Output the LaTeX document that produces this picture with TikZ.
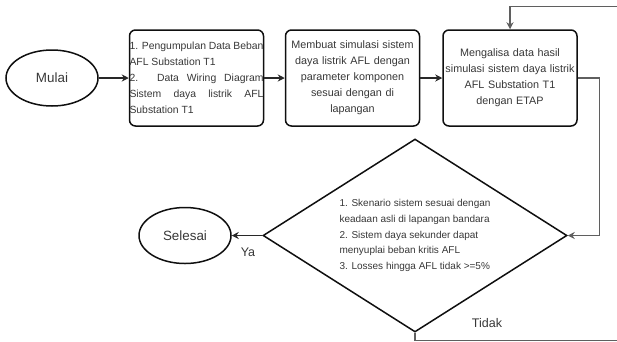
\documentclass[tikz,border=0pt]{standalone}
\usepackage{fontspec}
\setmainfont{Liberation Sans}
\usepackage{xcolor}
\usetikzlibrary{arrows.meta,positioning,shapes.geometric,calc}
\definecolor{fcedge}{RGB}{15,15,15}
\definecolor{fcline}{RGB}{40,40,40}
\definecolor{fcloop}{RGB}{95,95,95}
\definecolor{fcink}{RGB}{55,55,55}
\tikzset{
  fcbox/.style={
    draw=fcedge, line width=1.5pt, rounded corners=6pt,
    minimum width=134pt, minimum height=96pt, inner sep=0pt,
    text=fcink, text width=134pt, font=\fontsize{10.8}{16}\selectfont
  },
  term/.style={
    ellipse, draw=fcedge, line width=1.5pt, inner sep=0pt,
    minimum width=92pt, minimum height=56pt,
    text=fcink, font=\fontsize{13.4}{16}\selectfont
  },
  cond/.style={
    diamond, draw=fcedge, line width=1.5pt, inner sep=0pt, aspect=1.575,
    minimum width=304pt, minimum height=193pt, align=left,
    text=fcink, font=\fontsize{10}{15.7}\selectfont
  },
  arr/.style={-{Stealth[length=7pt,width=7pt]}, draw=fcline, line width=1.1pt},
  looparr/.style={arr, draw=fcloop},
  lbl/.style={text=fcink, font=\fontsize{12.5}{15}\selectfont, inner sep=0pt}
}

\begin{document}
\begin{tikzpicture}[x=1pt,y=-1pt]
  \useasboundingbox (0,0) rectangle (617,341);
  \clip (0,0) rectangle (617,341);
  \node[term] (mulai) at (52,78) {Mulai};
  \node[fcbox, align=justify, font=\fontsize{10.4}{16}\selectfont] (kumpul) at (196.5,78)
    {1. Pengumpulan Data Beban\linebreak
     AFL Substation T1\\
     2. Data Wiring Diagram\linebreak
     Sistem daya listrik AFL\linebreak
     Substation T1};
  \node[fcbox, align=center] (simulasi) at (352.5,78)
    {Membuat simulasi sistem\\ daya listrik AFL dengan\\ parameter komponen\\
     sesuai dengan di\\ lapangan};
  \node[fcbox, align=center] (analisa) at (510,78)
    {Mengalisa data hasil\\ simulasi sistem daya listrik\\ AFL Substation T1\\
     dengan ETAP};
  \node[cond] (cek) at (415,235.5)
    {1. Skenario sistem sesuai dengan\\
     keadaan asli di lapangan bandara\\
     2. Sistem daya sekunder dapat\\
     menyuplai beban kritis AFL\\
     3. Losses hingga AFL tidak >=5\%};
  \node[term] (selesai) at (185,235.5) {Selesai};
  \draw[arr] (mulai) -- (kumpul);
  \draw[arr] (kumpul) -- (simulasi);
  \draw[arr] (simulasi) -- (analisa);
  \draw[looparr] (analisa.east) -- ++(22,0) |- (cek.east);
  \draw[arr] (cek.west) -- (selesai.east);
  \coordinate (kanan) at (640,340.5);
  \draw[looparr] (cek.south) |- (kanan) -- (kanan |- 0,6.5) -| (analisa.north);
  \node[lbl] (ya) at (248,252) {Ya};
  \node[lbl] (tidak) at (487,323) {Tidak};
\end{tikzpicture}
\end{document}
